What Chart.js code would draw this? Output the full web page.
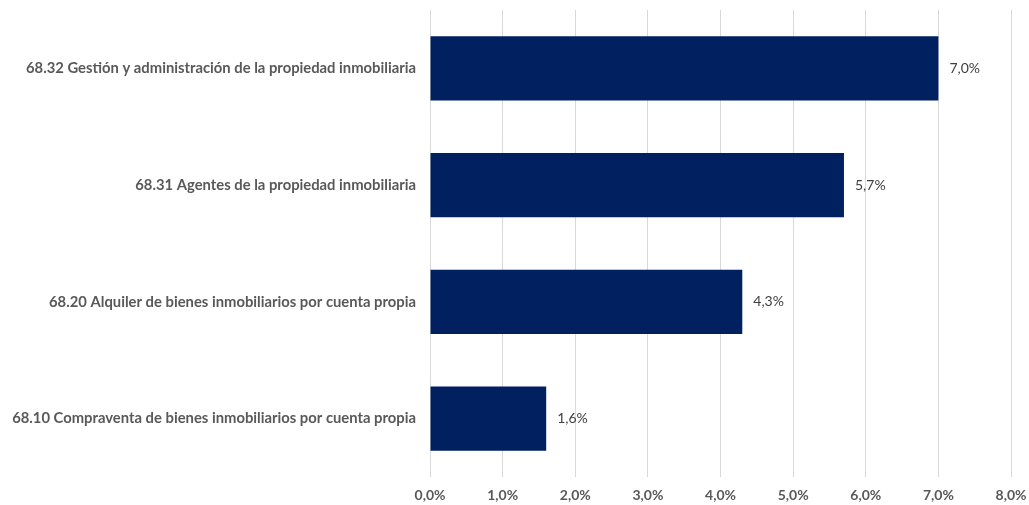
<!DOCTYPE html>
<html>
<head>
<meta charset="utf-8">
<script src="https://cdn.jsdelivr.net/npm/chart.js@4"></script>
<style>
  html, body { margin: 0; padding: 0; background: #fff; }
  #wrap { width: 1029px; height: 505px; position: relative; }
</style>
</head>
<body>
<div id="wrap"><canvas id="chart"></canvas></div>
<script>
const categories = [
  '68.32 Gestión y administración de la propiedad inmobiliaria',
  '68.31 Agentes de la propiedad inmobiliaria',
  '68.20 Alquiler de bienes inmobiliarios por cuenta propia',
  '68.10 Compraventa de bienes inmobiliarios por cuenta propia'
];
const values = [7.0, 5.7, 4.3, 1.6];
const xTicks = [0, 1, 2, 3, 4, 5, 6, 7, 8];

const fmt = v => v.toFixed(1).replace('.', ',') + '%';

// value labels to the right of each bar
const barLabels = {
  id: 'barLabels',
  afterDatasetsDraw(chart) {
    const ctx = chart.ctx;
    const meta = chart.getDatasetMeta(0);
    ctx.save();
    ctx.font = '14px Lato, "Open Sans", sans-serif';
    ctx.fillStyle = '#404040';
    ctx.textBaseline = 'middle';
    meta.data.forEach((bar, i) => {
      ctx.fillText(fmt(values[i]), bar.x + 11, bar.y);
    });
    ctx.restore();
  }
};

new Chart(document.getElementById('chart'), {
  type: 'bar',
  data: {
    labels: categories,
    datasets: [{
      data: values,
      backgroundColor: '#002060',
      borderWidth: 0,
      categoryPercentage: 1,
      barPercentage: 0.55
    }]
  },
  options: {
    indexAxis: 'y',
    responsive: true,
    maintainAspectRatio: false,
    animation: false,
    layout: { padding: { top: 10, right: 18, bottom: 0, left: 0 } },
    plugins: { legend: { display: false }, tooltip: { enabled: false } },
    scales: {
      x: {
        min: 0, max: 8,
        afterBuildTicks: s => { s.ticks = xTicks.map(v => ({ value: v })); },
        afterFit: s => { s.height = 28; s.paddingLeft = 0; s.paddingRight = 0; },
        grid: { color: '#d9d9d9', drawTicks: false },
        border: { display: false },
        ticks: {
          padding: 10,
          color: '#595959',
          font: { family: 'Lato, "Open Sans", sans-serif', size: 14, weight: 'bold' },
          callback: v => fmt(v)
        }
      },
      y: {
        grid: { display: false, drawTicks: false },
        border: { display: false },
        afterFit: s => { s.width = 430; s.paddingTop = 0; s.paddingBottom = 0; },
        ticks: {
          padding: 14,
          color: '#595959',
          font: { family: 'Lato, "Open Sans", sans-serif', size: 14.8, weight: 'bold' }
        }
      }
    }
  },
  plugins: [barLabels]
});
</script>
</body>
</html>
